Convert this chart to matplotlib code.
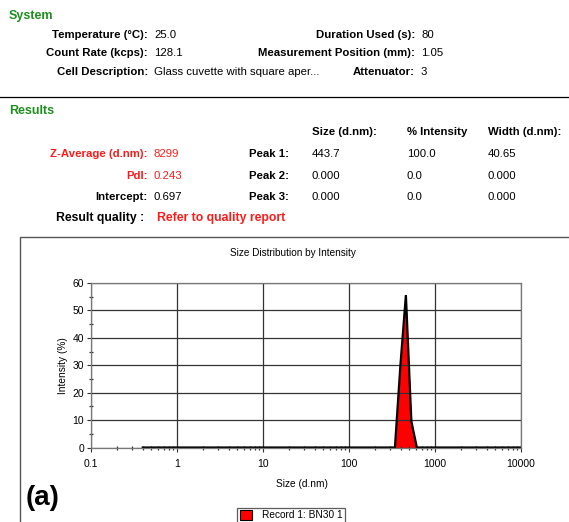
import numpy as np
import matplotlib
matplotlib.use('Agg')
import matplotlib.pyplot as plt
from matplotlib.patches import Rectangle
from matplotlib.lines import Line2D
from matplotlib.ticker import FixedLocator, FixedFormatter, LogLocator, MultipleLocator

plt.rcParams['font.family'] = ['Liberation Sans', 'DejaVu Sans']

W, H = 569, 522
GREEN = '#1e8f1e'
RED = '#ff1a1a'

# size distribution (d.nm) vs intensity (%)
sizes = [0.4, 1.0, 10.0, 100.0, 295.3, 342.0, 396.1, 458.7, 531.2, 615.1, 712.4, 1000.0, 10000.0]
intensity = [0, 0, 0, 0, 0, 0, 30.0, 55.6, 9.5, 0, 0, 0, 0]

x_ticks = [0.1, 1, 10, 100, 1000, 10000]
x_labels = ['0.1', '1', '10', '100', '1000', '10000']
y_ticks = [0, 10, 20, 30, 40, 50, 60]

system_rows = [
    ('Temperature (°C):', '25.0', 'Duration Used (s):', '80'),
    ('Count Rate (kcps):', '128.1', 'Measurement Position (mm):', '1.05'),
    ('Cell Description:', 'Glass cuvette with square aper...', 'Attenuator:', '3'),
]
result_headers = ['Size (d.nm):', '% Intensity', 'Width (d.nm):']
result_left = [('Z-Average (d.nm):', '8299', True),
               ('PdI:', '0.243', True),
               ('Intercept:', '0.697', False)]
peak_names = ['Peak 1:', 'Peak 2:', 'Peak 3:']
peak_size = ['443.7', '0.000', '0.000']
peak_int = ['100.0', '0.0', '0.0']
peak_width = ['40.65', '0.000', '0.000']


def fx(x):
    return x / W


def fy(y):
    return 1 - y / H


fig = plt.figure(figsize=(W / 100, H / 100), dpi=100)
fs = 8.2


def txt(x, y, s, ha='left', color='black', bold=False, size=fs):
    fig.text(fx(x), fy(y), s, ha=ha, va='center', color=color,
             fontweight='bold' if bold else 'normal', fontsize=size)


# ---- System block ----
txt(9, 16, 'System', color=GREEN, bold=True, size=9)
for i, (l1, v1, l2, v2) in enumerate(system_rows):
    y = 35 + i * 18.5
    txt(148, y, l1, ha='right', bold=True)
    txt(154, y, v1)
    txt(415, y, l2, ha='right', bold=True)
    txt(421, y, v2)

fig.add_artist(Line2D([0, 1], [fy(97), fy(97)], color='black', lw=0.9))

# ---- Results block ----
txt(9, 111, 'Results', color=GREEN, bold=True, size=9)
for x, s in zip([312, 407, 488], result_headers):
    txt(x, 132, s, bold=True)
for i, (lab, val, red) in enumerate(result_left):
    y = 154 + i * 21.5
    c = RED if red else 'black'
    txt(148, y, lab, ha='right', bold=True, color=c)
    txt(154, y, val, color=c)
    txt(289, y, peak_names[i], ha='right', bold=True)
    txt(312, y, peak_size[i])
    txt(407, y, peak_int[i])
    txt(488, y, peak_width[i])
txt(144, 218, 'Result quality :', ha='right', bold=True, size=8.8)
txt(157, 218, 'Refer to quality report', color=RED, bold=True, size=8.8)

# ---- chart frame ----
fig.add_artist(Rectangle((fx(20), fy(540)), fx(560), fy(237) - fy(540),
                         transform=fig.transFigure, fill=False,
                         edgecolor='#555555', lw=1.0))
txt(293, 253, 'Size Distribution by Intensity', ha='center', size=7.2)

ax = fig.add_axes([fx(91), fy(447.5), fx(521) - fx(91), fy(283) - fy(447.5)])
ax.set_xscale('log')
ax.fill_between(sizes, intensity, 0, color='#ff0000', lw=0, label='Record 1: BN30 1')
ax.plot(sizes, intensity, color='black', lw=1.6, solid_joinstyle='miter')
ax.set_xlim(0.1, 10000)
ax.set_ylim(0, 60)

ax.xaxis.set_major_locator(FixedLocator(x_ticks))
ax.xaxis.set_major_formatter(FixedFormatter(x_labels))
ax.xaxis.set_minor_locator(LogLocator(base=10, subs=np.arange(2, 10)))
ax.yaxis.set_major_locator(FixedLocator(y_ticks))
ax.yaxis.set_minor_locator(MultipleLocator(5))
ax.tick_params(axis='both', which='major', labelsize=7.5, length=3, width=0.8,
               color='#333333', pad=2)
ax.tick_params(axis='x', which='major', pad=5)
ax.tick_params(axis='both', which='minor', length=2.5, width=0.9,
               direction='inout', color='#333333')
ax.tick_params(axis='y', which='major', direction='out')
ax.grid(True, which='major', color='#333333', lw=0.9)
for sp in ax.spines.values():
    sp.set_color('#777777')
    sp.set_linewidth(0.9)
ax.set_xlabel('Size (d.nm)', fontsize=7.3)
ax.set_ylabel('Intensity (%)', fontsize=7.3)
ax.xaxis.set_label_coords(0.49, -0.19)
ax.yaxis.set_label_coords(-0.053, 0.5)

txt(26, 498, '(a)', bold=True, size=20)

leg = fig.legend(loc='upper center', bbox_to_anchor=(fx(291), fy(507.5)),
                 fontsize=7.3, frameon=True, fancybox=False, borderpad=0.25,
                 borderaxespad=0, handlelength=1.2, handleheight=1.1,
                 handletextpad=1.0)
leg.get_frame().set_edgecolor('#333333')
leg.get_frame().set_linewidth(0.9)
for h in leg.legend_handles:
    h.set_edgecolor('black')
    h.set_linewidth(0.8)

fig.savefig('out.png', dpi=100)
